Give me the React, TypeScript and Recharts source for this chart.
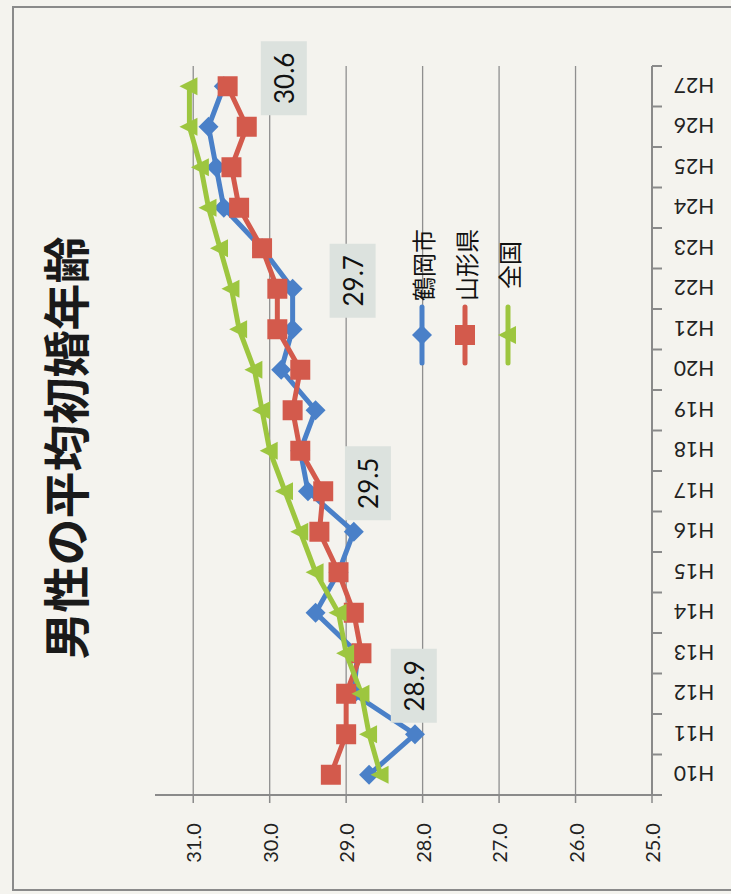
import React from 'react';
import { LineChart, Line, XAxis, YAxis, ReferenceLine, LabelList } from 'recharts';

const years = ['H10', 'H11', 'H12', 'H13', 'H14', 'H15', 'H16', 'H17', 'H18', 'H19', 'H20', 'H21', 'H22', 'H23', 'H24', 'H25', 'H26', 'H27'];
const tsuruoka = [28.7, 28.1, 28.9, 28.85, 29.4, 29.1, 28.9, 29.5, 29.6, 29.4, 29.85, 29.7, 29.7, 30.1, 30.6, 30.7, 30.8, 30.6];
const yamagata = [29.2, 29.0, 29.0, 28.8, 28.9, 29.1, 29.35, 29.3, 29.6, 29.7, 29.6, 29.9, 29.9, 30.1, 30.4, 30.5, 30.3, 30.55];
const zenkoku = [28.55, 28.7, 28.8, 29.0, 29.1, 29.4, 29.6, 29.8, 30.0, 30.1, 30.2, 30.4, 30.5, 30.65, 30.8, 30.9, 31.05, 31.05];
const valueTicks = [25, 26, 27, 28, 29, 30, 31];
const labeledYears = ['H12', 'H17', 'H22', 'H27'];
const seriesNames = ['鶴岡市', '山形県', '全国'];
const title = '男性の平均初婚年齢';

const data = years.map((year, i) => ({
  year,
  tsuruoka: tsuruoka[i],
  yamagata: yamagata[i],
  zenkoku: zenkoku[i],
}));

const BLUE = '#4a80c8';
const RED = '#d35a4c';
const GREEN = '#9dc63f';
const AXIS = '#8a8a8a';
const GRID = '#8f8f8f';
const NUM_FONT = 'Lato, "Open Sans", sans-serif';
const JP_FONT = '"Noto Sans CJK JP", "Noto Sans", sans-serif';

const PLOT_TOP = 66;
const PLOT_BOTTOM = 795;
const BAND = (PLOT_BOTTOM - PLOT_TOP) / years.length;

const diamondPath = (cx: number, cy: number, r: number) =>
  `M${cx},${cy - r}L${cx + r},${cy}L${cx},${cy + r}L${cx - r},${cy}Z`;
const trianglePath = (cx: number, cy: number) =>
  `M${cx - 10},${cy}L${cx + 8},${cy - 9}L${cx + 8},${cy + 9}Z`;

const BlueDot = (props: any) => {
  const { cx, cy, index } = props;
  if (cx == null || cy == null) return <g key={`b-${index}`} />;
  return <path key={`b-${index}`} d={diamondPath(cx, cy, 10)} fill={BLUE} />;
};

const RedDot = (props: any) => {
  const { cx, cy, index } = props;
  if (cx == null || cy == null) return <g key={`r-${index}`} />;
  return <rect key={`r-${index}`} x={cx - 10} y={cy - 10} width={20} height={20} fill={RED} />;
};

const GreenDot = (props: any) => {
  const { cx, cy, index } = props;
  if (cx == null || cy == null) return <g key={`g-${index}`} />;
  return <path key={`g-${index}`} d={trianglePath(cx, cy)} fill={GREEN} />;
};

const CategoryTick = (props: any) => {
  const { x, y, payload, index } = props;
  const half = BAND / 2;
  const tx = x + 42;
  return (
    <g>
      <line x1={x} x2={x + 10} y1={y - half} y2={y - half} stroke={AXIS} strokeWidth={2} />
      {index === 0 && <line x1={x} x2={x + 10} y1={y + half} y2={y + half} stroke={AXIS} strokeWidth={2} />}
      <text
        x={tx}
        y={y}
        textAnchor="middle"
        dominantBaseline="central"
        transform={`rotate(180, ${tx}, ${y})`}
        fontSize={21}
        fontFamily={NUM_FONT}
        fill="#222"
      >
        {payload.value}
      </text>
    </g>
  );
};

const ValueTick = (props: any) => {
  const { x, y, payload } = props;
  const ty = y + 40;
  return (
    <text
      x={x}
      y={ty}
      textAnchor="middle"
      dominantBaseline="central"
      transform={`rotate(-90, ${x}, ${ty})`}
      fontSize={20}
      fontFamily={NUM_FONT}
      fill="#222"
    >
      {Number(payload.value).toFixed(1)}
    </text>
  );
};

const BlueLabel = (props: any) => {
  const { x, y, value, index } = props;
  if (!labeledYears.includes(years[index])) return null;
  const lx = x + 60;
  const ly = y - 8;
  return (
    <g>
      <rect x={lx - 23} y={ly - 37} width={46} height={74} fill="#dce2de" />
      <text
        x={lx}
        y={ly}
        textAnchor="middle"
        dominantBaseline="central"
        transform={`rotate(-90, ${lx}, ${ly})`}
        fontSize={26}
        fontFamily={NUM_FONT}
        fill="#111"
      >
        {Number(value).toFixed(1)}
      </text>
    </g>
  );
};

const legendItems = [
  { name: seriesNames[0], color: BLUE, marker: 'diamond' },
  { name: seriesNames[1], color: RED, marker: 'square' },
  { name: seriesNames[2], color: GREEN, marker: 'triangle' },
];

function ChartLegend() {
  return (
    <svg width={731} height={894} style={{ position: 'absolute', left: 0, top: 0, pointerEvents: 'none' }}>
      {legendItems.map((item, i) => {
        const cx = 422 + i * 43;
        return (
          <g key={item.name}>
            <text
              x={cx}
              y={265}
              textAnchor="middle"
              dominantBaseline="central"
              transform={`rotate(-90, ${cx}, 265)`}
              fontSize={24}
              fontFamily={JP_FONT}
              fill="#111"
            >
              {item.name}
            </text>
            <line x1={cx} x2={cx} y1={307} y2={363} stroke={item.color} strokeWidth={5} strokeLinecap="round" />
            {item.marker === 'diamond' && <path d={diamondPath(cx, 335, 10)} fill={item.color} />}
            {item.marker === 'square' && <rect x={cx - 10} y={325} width={20} height={20} fill={item.color} />}
            {item.marker === 'triangle' && <path d={trianglePath(cx, 335)} fill={item.color} />}
          </g>
        );
      })}
    </svg>
  );
}

export default function App() {
  return (
    <div style={{ position: 'fixed', left: 0, top: 0, width: 731, height: 894, background: '#f4f3ee', overflow: 'hidden' }}>
      <div
        style={{
          position: 'absolute',
          left: 12,
          top: 6,
          width: 760,
          height: 885,
          border: '2px solid #8a8a8a',
          boxSizing: 'border-box',
        }}
      />
      <div
        style={{
          position: 'absolute',
          left: 63,
          top: 448,
          transform: 'translate(-50%, -50%) rotate(-90deg)',
          whiteSpace: 'nowrap',
          fontSize: 47,
          lineHeight: 1,
          fontWeight: 700,
          fontFamily: JP_FONT,
          color: '#1a1a1a',
        }}
      >
        {title}
      </div>
      <div style={{ position: 'absolute', left: 0, top: 0 }}>
        <LineChart
          width={731}
          height={894}
          data={data}
          layout="vertical"
          margin={{ top: PLOT_TOP, right: 0, bottom: 19, left: 155 }}
        >
          <XAxis
            type="number"
            domain={[25, 31.5]}
            ticks={valueTicks}
            reversed
            allowDataOverflow
            height={80}
            tickSize={8}
            tickMargin={0}
            stroke={AXIS}
            axisLine={{ stroke: AXIS, strokeWidth: 2 }}
            tickLine={{ stroke: AXIS, strokeWidth: 1.5 }}
            tick={<ValueTick />}
          />
          <YAxis
            type="category"
            dataKey="year"
            orientation="right"
            reversed
            width={79}
            padding={{ top: BAND / 2, bottom: BAND / 2 }}
            tickSize={0}
            tickMargin={0}
            tickLine={false}
            interval={0}
            axisLine={{ stroke: AXIS, strokeWidth: 2 }}
            tick={<CategoryTick />}
          />
          {valueTicks
            .filter((v) => v !== 25)
            .map((v) => (
              <ReferenceLine key={v} x={v} stroke={GRID} strokeWidth={1.3} />
            ))}
          <Line
            dataKey="tsuruoka"
            name={seriesNames[0]}
            stroke={BLUE}
            strokeWidth={5}
            dot={BlueDot}
            activeDot={false}
            isAnimationActive={false}
          >
            <LabelList dataKey="tsuruoka" content={<BlueLabel />} />
          </Line>
          <Line
            dataKey="yamagata"
            name={seriesNames[1]}
            stroke={RED}
            strokeWidth={5}
            dot={RedDot}
            activeDot={false}
            isAnimationActive={false}
          />
          <Line
            dataKey="zenkoku"
            name={seriesNames[2]}
            stroke={GREEN}
            strokeWidth={5}
            dot={GreenDot}
            activeDot={false}
            isAnimationActive={false}
          />
        </LineChart>
      </div>
      <ChartLegend />
    </div>
  );
}
